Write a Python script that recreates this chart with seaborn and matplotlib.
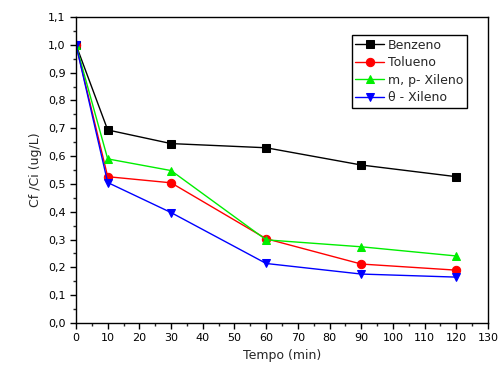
import matplotlib
matplotlib.use("Agg")
import matplotlib.pyplot as plt
import numpy as np
import pandas as pd
import seaborn as sns
from matplotlib.ticker import MultipleLocator, FuncFormatter

sns.set_theme(style="ticks")
plt.rcParams["font.family"] = ["DejaVu Sans"]

tempo = [0, 10, 30, 60, 90, 120]
benzeno = [1.0, 0.694, 0.645, 0.630, 0.568, 0.526]
tolueno = [1.0, 0.526, 0.504, 0.303, 0.212, 0.190]
mp_xileno = [1.0, 0.590, 0.548, 0.299, 0.274, 0.241]
o_xileno = [1.0, 0.505, 0.397, 0.214, 0.176, 0.165]

series = ["Benzeno", "Tolueno", "m, p- Xileno", "\u03b8 - Xileno"]
colors = ["black", "red", "#00ee00", "blue"]
markers = ["s", "o", "^", "v"]

df = pd.DataFrame({
    "tempo": tempo * 4,
    "valor": benzeno + tolueno + mp_xileno + o_xileno,
    "serie": np.repeat(series, len(tempo)),
})

fig = plt.figure(figsize=(5, 3.7), dpi=100)
ax = fig.add_axes([0.152, 0.127, 0.824, 0.827])

for name, c, m in zip(series, colors, markers):
    sub = df[df["serie"] == name]
    sns.lineplot(data=sub, x="tempo", y="valor", color=c, marker=m,
                 markersize=6, markeredgecolor=c, linewidth=1, label=name, ax=ax)

ax.set_xlim(0, 130)
ax.set_ylim(0, 1.1)
ax.xaxis.set_major_locator(MultipleLocator(10))
ax.xaxis.set_minor_locator(MultipleLocator(5))
ax.yaxis.set_major_locator(MultipleLocator(0.1))
ax.yaxis.set_minor_locator(MultipleLocator(0.05))
ax.yaxis.set_major_formatter(FuncFormatter(lambda v, p: f"{v:.1f}".replace(".", ",")))
ax.tick_params(which="major", direction="out", length=4, width=1, labelsize=8, colors="black")
ax.tick_params(which="minor", direction="out", length=2, width=1)
for s in ax.spines.values():
    s.set_color("black")
    s.set_linewidth(1)

ax.set_xlabel("Tempo (min)", fontsize=9)
ax.set_ylabel("Cf /Ci (ug/L)", fontsize=9)

leg = ax.legend(loc="upper right", bbox_to_anchor=(0.949, 0.941), borderaxespad=0,
                fontsize=9, frameon=True, fancybox=False, framealpha=1,
                edgecolor="black", handlelength=2.3, borderpad=0.3,
                labelspacing=0.35, handletextpad=0.3)
leg.get_frame().set_linewidth(1)

fig.savefig("out.png", dpi=100)
